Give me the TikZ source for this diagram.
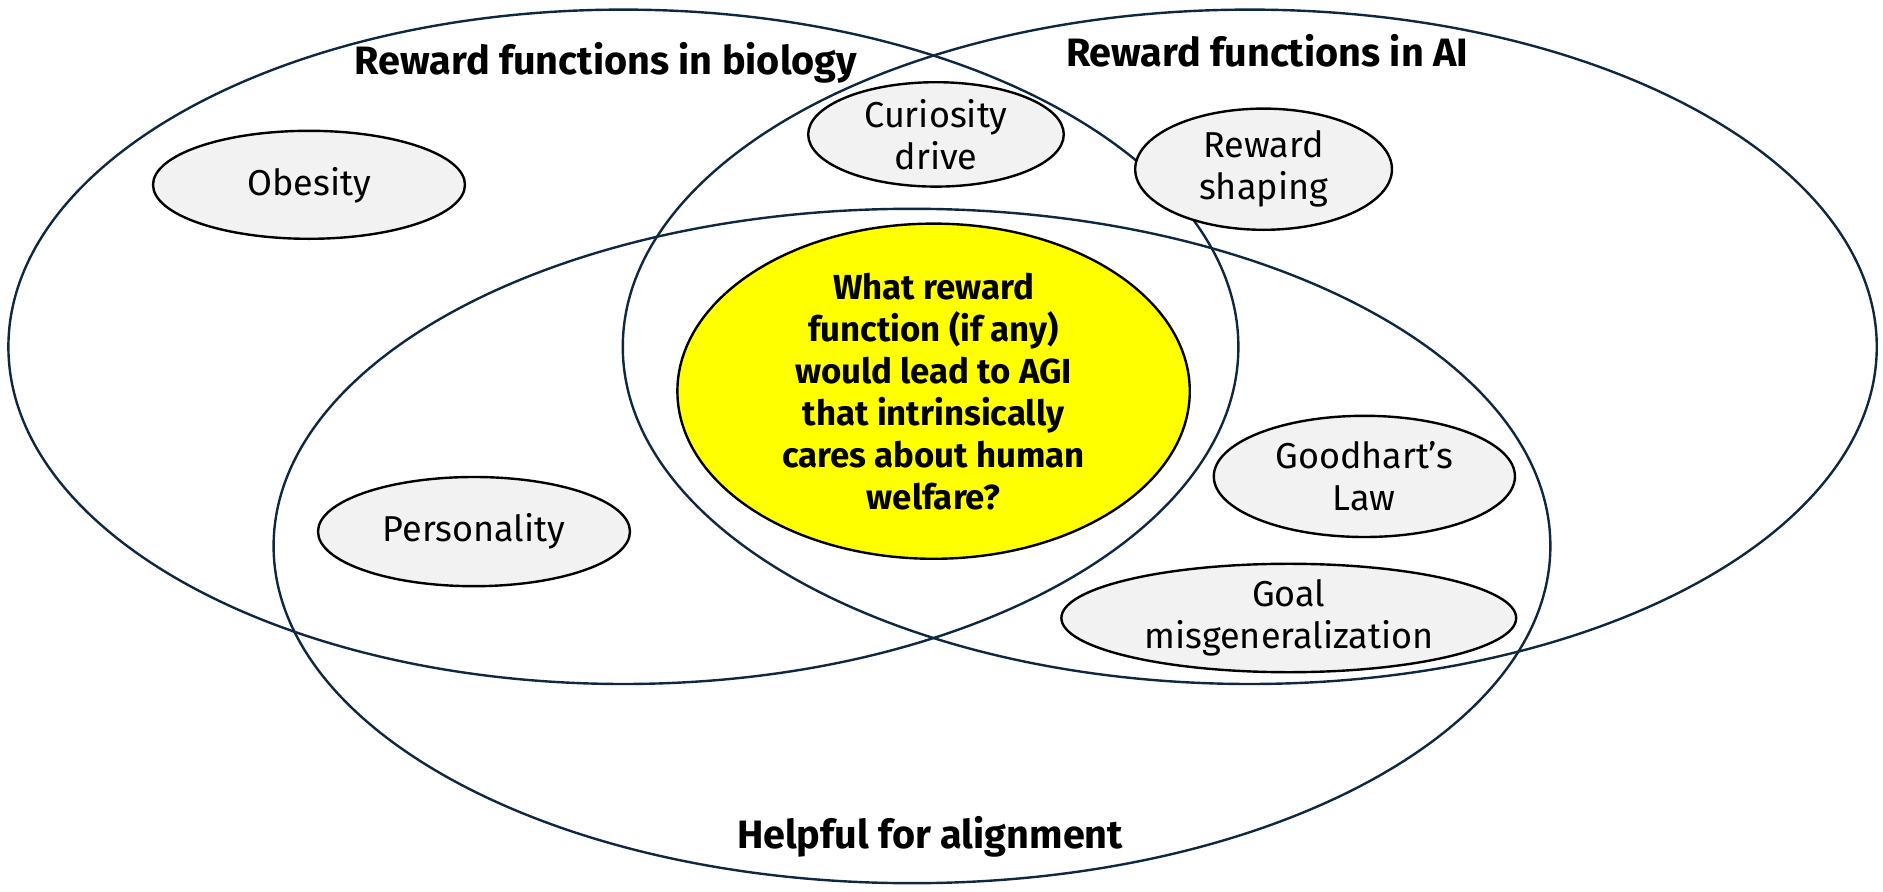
\documentclass[tikz,border=0pt]{standalone}
\usepackage{fontspec}
\setmainfont{Fira Sans}
\usetikzlibrary{shapes.geometric, positioning}

\definecolor{setline}{HTML}{0E2841}
\definecolor{topicfill}{HTML}{F2F2F2}
\definecolor{questfill}{HTML}{FFFF00}

\begin{document}
\begin{tikzpicture}
	[x=1pt, y=-1pt,
	 scale=1.2,
	 transform shape,
	 align=center,
	 bigset/.style={ellipse, draw=setline, line width=2.4pt, inner sep=0pt,
	                minimum width=#1, minimum height=562pt},
	 topic/.style={ellipse, draw=black, line width=2.4pt, fill=topicfill, inner sep=0pt,
	               font=\fontsize{30}{35}\selectfont},
	 settitle/.style={inner sep=0pt, anchor=base, font=\fontsize{33}{38}\selectfont\bfseries}]

	\useasboundingbox (0,0) rectangle (1569.2,743.3);

	% the three sets
	\node[bigset=1025pt] (bio) at (519.5,289) {};
	\node[bigset=1045pt] (ai) at (1041.5,289) {};
	\node[bigset=1064pt] (align) at (760,455) {};

	\node[settitle] (biotitle) at (505,62) {Reward functions in biology};
	\node[settitle] (aititle) at (1056,55) {Reward functions in AI};
	\node[settitle] (aligntitle) at (775,707) {Helpful for alignment};

	% topics
	\node[topic, minimum width=260pt, minimum height=90pt] (obesity) at (257.5,154) {Obesity};
	\node[topic, minimum width=213pt, minimum height=87pt] (curiosity) at (780,112) {Curiosity\\drive};
	\node[topic, minimum width=214pt, minimum height=101pt] (shaping) at (1053,141) {Reward\\shaping};
	\node[topic, minimum width=260pt, minimum height=91pt] (personality) at (395,443) {Personality};
	\node[topic, minimum width=251pt, minimum height=101pt] (goodhart) at (1137,397) {Goodhart’s\\Law};
	\node[topic, minimum width=379pt, minimum height=83pt] (misgen) at (1074,515) {Goal\\misgeneralization};

	% the open question
	\node[ellipse, draw=black, line width=2.4pt, fill=questfill, inner sep=0pt,
	      minimum width=427pt, minimum height=259pt,
	      font=\fontsize{29}{35}\selectfont\bfseries] (question) at (778,326)
	      {What reward\\function (if any)\\would lead to AGI\\that intrinsically\\cares about human\\welfare?};
\end{tikzpicture}
\end{document}
